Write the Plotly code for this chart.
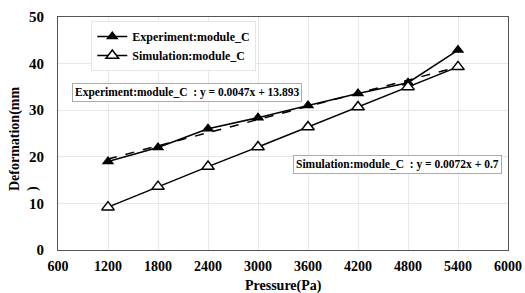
import plotly.graph_objects as go

pressure = [1200, 1800, 2400, 3000, 3600, 4200, 4800, 5400]
experiment = [19.0, 22.0, 26.0, 28.4, 31.0, 33.6, 35.9, 42.9]
simulation = [9.2, 13.6, 17.9, 22.1, 26.4, 30.7, 35.0, 39.3]
exp_trend_coef = [0.0047, 13.893]
x_ticks = [600, 1200, 1800, 2400, 3000, 3600, 4200, 4800, 5400, 6000]
y_ticks = [0, 10, 20, 30, 40, 50]

FONT = "Liberation Serif"

trend_x = [pressure[0], pressure[-1]]
trend_y = [exp_trend_coef[0] * x + exp_trend_coef[1] for x in trend_x]

fig = go.Figure()
fig.add_trace(go.Scatter(x=trend_x, y=trend_y, mode="lines",
                         line=dict(color="black", width=1.5, dash="dash"),
                         showlegend=False, hoverinfo="skip"))
fig.add_trace(go.Scatter(x=pressure, y=experiment, mode="lines+markers",
                         name="<b>Experiment:module_C</b>",
                         line=dict(color="black", width=1.5),
                         marker=dict(symbol="triangle-up", size=11, color="black")))
fig.add_trace(go.Scatter(x=pressure, y=simulation, mode="lines+markers",
                         name="<b>Simulation:module_C</b>",
                         line=dict(color="black", width=1.5),
                         marker=dict(symbol="triangle-up", size=11, color="white",
                                     line=dict(color="black", width=1.5))))

fig.update_layout(
    template="none",
    width=525, height=293,
    margin=dict(l=58, r=17, t=17, b=43, autoexpand=False),
    paper_bgcolor="white", plot_bgcolor="white",
    font=dict(family=FONT, color="black"),
    legend=dict(x=0.074, y=0.983, xanchor="left", yanchor="top",
                bgcolor="white", bordercolor="#e6e6e6", borderwidth=1,
                font=dict(family=FONT, size=12, color="black"),
                itemwidth=30, tracegroupgap=4),
    xaxis=dict(range=[600, 6000], tickvals=x_ticks,
               ticktext=[f"<b>{v}</b>" for v in x_ticks],
               showgrid=True, gridcolor="#e8e8e8", gridwidth=1,
               showline=True, linecolor="#555555", linewidth=1, mirror=True,
               ticks="", ticklabelstandoff=3, automargin=False,
               tickfont=dict(family=FONT, size=14),
               zeroline=False),
    yaxis=dict(range=[0, 50], tickvals=y_ticks,
               ticktext=[f"<b>{v}</b>" for v in y_ticks],
               showgrid=True, gridcolor="#e8e8e8", gridwidth=1,
               showline=True, linecolor="#555555", linewidth=1, mirror=True,
               ticks="", ticklabelstandoff=10, automargin=False,
               tickfont=dict(family=FONT, size=15),
               zeroline=False),
)

fig.add_annotation(text="<b>Pressure(Pa)</b>", xref="paper", yref="paper",
                   x=0.5, y=-0.112, yanchor="top", showarrow=False,
                   font=dict(family=FONT, size=14))
fig.add_annotation(text="<b>Deformation(mm<br>)</b>", xref="paper", yref="paper",
                   x=-0.118, y=0.48, xanchor="left", yanchor="middle",
                   textangle=-90, align="left", showarrow=False,
                   font=dict(family=FONT, size=14))

fig.add_annotation(text="<b>Experiment:module_C  : y = 0.0047x + 13.893</b>",
                   xref="paper", yref="paper", x=0.031, y=0.674,
                   xanchor="left", yanchor="middle", showarrow=False,
                   bgcolor="white", bordercolor="#aaaaaa", borderwidth=1, borderpad=2,
                   font=dict(family=FONT, size=11.5))
fig.add_annotation(text="<b>Simulation:module_C  : y = 0.0072x + 0.7</b>",
                   xref="paper", yref="paper", x=0.522, y=0.369,
                   xanchor="left", yanchor="middle", showarrow=False,
                   bgcolor="white", bordercolor="#aaaaaa", borderwidth=1, borderpad=2,
                   font=dict(family=FONT, size=11.5))

fig.write_html("out.html",
               config={"displayModeBar": False},
               post_script="document.body.style.margin='0';document.body.style.overflow='hidden';")
